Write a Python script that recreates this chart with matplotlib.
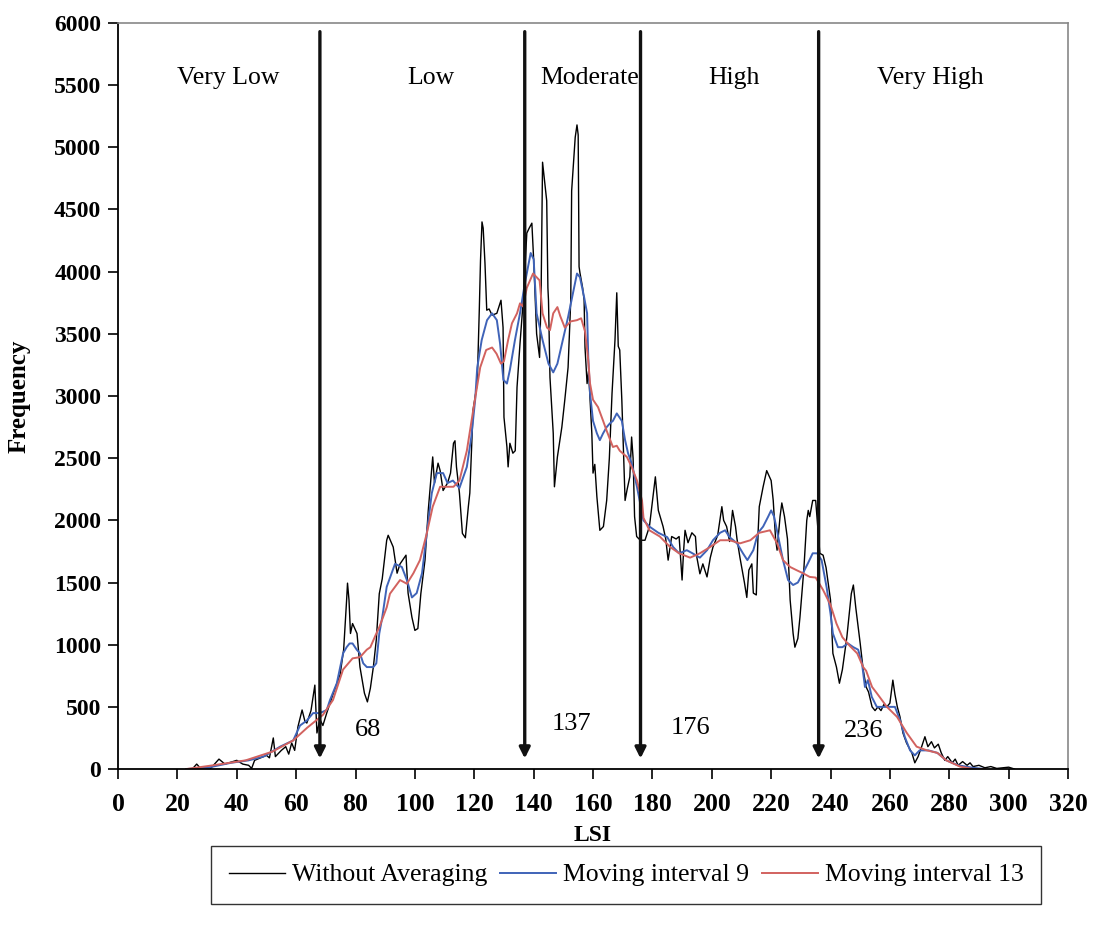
import numpy as np
import matplotlib.pyplot as plt

plt.rcParams.update({
    "font.family": "serif",
    "font.serif": ["Liberation Serif", "DejaVu Serif"],
})

# ---------------------------------------------------------------
# data (LSI vs. frequency)
# ---------------------------------------------------------------
raw_x = [23, 25, 26.5, 28, 31, 34, 36, 38, 40, 42, 44, 45, 46, 48, 50, 51, 52.3, 53, 55,
         56.5, 57.5, 58.5, 59.5, 60.6, 62, 63, 63.6, 65, 65.7, 66.3, 67, 68, 69, 70.3,
         71.4, 72.4, 74.8, 76, 77, 77.3, 77.8, 78.3, 79, 80.5, 81.5, 83, 84, 85, 86, 87,
         88, 89, 90.5, 91, 92.7, 94, 95, 97, 97.7, 99, 100, 101, 102, 103.4, 104.5, 105.6,
         106, 106.6, 107.8, 108.5, 109.5, 111, 112, 113, 113.5, 114, 115, 116, 117, 118,
         118.5, 119.6, 121, 121.7, 122.1, 122.6, 123, 123.6, 124.2, 125, 126, 127.6, 129,
         129.7, 130, 131, 131.4, 132, 133, 133.8, 134.4, 135.4, 136.5, 137.7, 138.5, 139.4,
         140, 141, 142, 142.5, 143, 144.4, 144.8, 145, 145.5, 146.6, 147, 148, 149.5, 150.5,
         151.6, 152.5, 152.8, 153.5, 154, 154.6, 155, 155.3, 155.6, 156.5, 157, 157.3, 158,
         158.5, 159.6, 160, 160.6, 161.3, 162.3, 163.5, 164.6, 165.5, 166.4, 167.4, 168,
         168.5, 169, 169.7, 170.8, 171.5, 172.4, 173, 173.5, 174, 174.7, 175.5, 176.3,
         177.5, 179, 181, 182, 183.6, 184.5, 185.3, 186.5, 188, 189, 190, 190.5, 191, 192,
         193.3, 194.5, 195, 196, 197, 198.4, 199.5, 200.4, 202, 203.4, 204, 205, 206, 207,
         208, 208.5, 209.5, 211, 211.8, 212.5, 213.5, 214, 215, 215.6, 216, 217.3, 218.5,
         220, 220.7, 221.5, 222, 223, 223.6, 224.5, 225.5, 226.4, 227.4, 228, 229, 229.7,
         231, 232, 232.5, 233, 234, 235, 236.4, 237.5, 238.5, 240, 240.8, 242, 243, 244,
         245.5, 247, 247.7, 248.5, 250, 251, 252, 252.8, 254, 255, 256, 257, 258, 259, 260,
         261, 261.7, 262.5, 263.4, 264.4, 265.6, 267.4, 268.4, 269.5, 270.7, 271.8, 272.8,
         274, 275, 276.3, 277.3, 278.5, 279.5, 281, 282, 283, 284.5, 286, 287, 288, 290,
         292, 294, 296, 300, 302]
raw_y = [0, 0, 40, 0, 0, 80, 40, 55, 70, 40, 30, 5, 70, 90, 110, 90, 250, 100, 150,
         180, 120, 210, 150, 340, 475, 380, 370, 470, 580, 675, 290, 400, 350, 450,
         530, 600, 760, 960, 1360, 1495, 1360, 1090, 1170, 1090, 820, 610, 540, 650, 820, 1040,
         1410, 1530, 1840, 1880, 1785, 1575, 1650, 1720, 1415, 1220, 1115, 1130, 1410, 1680, 2080, 2400,
         2510, 2300, 2460, 2400, 2240, 2300, 2380, 2620, 2640, 2430, 2220, 1895, 1860, 2110,
         2220, 2890, 3100, 3700, 4090, 4400, 4350, 4070, 3690, 3700, 3650, 3665, 3770,
         3550, 2830, 2590, 2430, 2620, 2540, 2560, 3070, 3420, 3770, 4310, 4350, 4390,
         4100, 3500, 3310, 3800, 4880, 4570, 3870, 3770, 3150, 2700, 2270, 2510, 2750, 2970,
         3230, 3770, 4650, 4900, 5080, 5180, 5100, 4040, 3990, 3870, 3770, 3390, 3100,
         3200, 2700, 2380, 2450, 2190, 1920, 1950, 2160, 2500, 3020, 3450, 3830,
         3400, 3370, 2970, 2160, 2250, 2350, 2670, 2500, 2030, 1870, 1850, 1840,
         1840, 1950, 2350, 2080, 1950, 1850, 1680, 1870, 1850, 1870, 1520, 1750, 1920, 1820,
         1900, 1870, 1700, 1570, 1650, 1545, 1700, 1785, 1880, 2110, 2000, 1950, 1830, 2080,
         1950, 1850, 1700, 1500, 1380, 1600, 1650, 1415, 1400, 1900, 2110, 2270, 2400,
         2320, 2160, 1850, 1760, 2030, 2140, 2030, 1850, 1360, 1090, 980, 1050, 1220,
         1600, 2000, 2080, 2030, 2160, 2160, 1735, 1720, 1620, 1360, 930, 820, 690, 800,
         1060, 1410, 1480, 1300, 1010, 800, 660, 620, 500, 470, 500, 470, 520, 500, 530,
         715, 600, 500, 420, 290, 210, 130, 50, 100, 180, 260, 180,
         220, 170, 200, 130, 70, 100, 50, 80, 30, 60, 30, 50, 20, 30,
         10, 20, 5, 15, 0]

ma9_x = [23, 30, 38, 44, 49, 54.6, 59, 61.3, 63.6, 65.7, 68, 70.3, 71.4, 73.7, 75.8, 77, 78,
         79, 80.4, 81.5, 82.6, 83.8, 86, 87, 88, 89, 90.5, 93.3, 95.6, 97.3, 99, 100.6,
         102.4, 104, 105.7, 107.4, 109.5, 111, 112.8, 115, 117.5, 119, 120.3, 121, 122.5,
         124.3, 126, 127.6, 128.7, 129.8, 131, 132, 133.7, 135.4, 137, 139, 140, 141, 143,
         145, 146.6, 148, 150, 151.6, 153, 154.6, 155.6, 157, 158, 158.4, 159, 160, 161.3,
         162.3, 163.4, 164.6, 165.7, 166.7, 168, 169.7, 170.8, 171.8, 173, 174.8, 176.5,
         177, 179, 182, 185, 187, 189, 191.6, 193.5, 196, 198.4, 200.4, 202.8, 204.5, 206,
         208.5, 210.5, 212, 214, 215.6, 217.3, 219, 220, 221, 222.4, 224, 225.7, 227.4, 229,
         230.7, 232.4, 234, 235.5, 237, 238.7, 240, 240.8, 242.5, 244, 245.9, 247.7, 249.3,
         250.6, 251.6, 252.6, 253.9, 255.6, 257.7, 260, 261.7, 263.4, 265, 266.8, 268.4,
         270, 273, 276, 279, 283, 288, 292]
ma9_y = [0, 10, 50, 70, 100, 180, 230, 350, 390, 450, 450, 475, 555, 690, 930, 980, 1010,
         1010, 960, 930, 850, 820, 820, 850, 1090, 1220, 1465, 1650, 1625, 1520, 1380, 1415,
         1575, 1895, 2220, 2380, 2380, 2300, 2320, 2260, 2430, 2670, 2970, 3230, 3450,
         3610, 3665, 3610, 3420, 3130, 3100, 3210, 3450, 3665, 3900, 4150, 4100, 3665, 3450,
         3260, 3190, 3260, 3470, 3635, 3800, 3985, 3955, 3795, 3665, 3310, 3020, 2800, 2700,
         2645, 2700, 2750, 2780, 2800, 2860, 2800, 2645, 2540, 2460, 2270, 2060,
         2000, 1950, 1900, 1865, 1785, 1735, 1760, 1735, 1700, 1760, 1840, 1900, 1920, 1865,
         1815, 1735, 1680, 1760, 1900, 1950, 2030, 2080, 2030, 1865, 1680, 1520, 1480, 1500,
         1575, 1655, 1735, 1735, 1680, 1460, 1250, 1090, 980, 980, 1010, 980, 960,
         850, 660, 715, 580, 500, 500, 500, 500, 395, 260, 150, 110,
         150, 150, 130, 70, 30, 10, 0]

ma13_x = [23, 32, 43, 52, 59, 63.6, 69, 72.4, 75.8, 79, 81.5, 83.8, 85, 87, 88, 90.5, 91.6,
          95, 97.3, 99.5, 101.7, 104, 106, 108.5, 110.8, 113, 115, 117.5, 119.6, 122, 124,
          126, 127.5, 129, 130, 131.4, 132.7, 134.4, 135.4, 136.4, 137.7, 139.8, 142, 143,
          144.5, 145.5, 146.6, 148, 149, 150.5, 152.5, 154.6, 156, 157.3, 158.3, 159, 160,
          161.7, 163.4, 164.6, 166.7, 168, 169, 171.4, 173, 174.8, 176.5, 177, 179, 182.5,
          186, 189, 192.7, 196, 199.4, 202.8, 206, 209.5, 213, 216, 219.6, 222, 224, 226.4,
          228.5, 230.7, 233, 235, 237.5, 240, 242, 244, 246.5, 249, 251, 252, 254, 255.6,
          259, 262.4, 265.7, 269, 272.5, 276, 279, 283.6, 288, 292]
ma13_y = [0, 30, 70, 140, 230, 330, 435, 555, 800, 890, 900, 960, 980, 1090, 1140, 1300, 1410,
          1520, 1490, 1575, 1680, 1895, 2110, 2270, 2270, 2270, 2320, 2560, 2880, 3230, 3370,
          3390, 3340, 3260, 3280, 3450, 3585, 3665, 3745, 3720, 3870, 3985, 3930, 3665,
          3550, 3530, 3665, 3715, 3640, 3550, 3600, 3610, 3625, 3520, 3310, 3100, 2970,
          2910, 2800, 2720, 2590, 2600, 2560, 2510, 2430, 2320, 2160, 2020, 1920, 1870,
          1785, 1735, 1700, 1735, 1785, 1840, 1840, 1815, 1840, 1900, 1920, 1815, 1680, 1625,
          1600, 1575, 1545, 1540, 1440, 1320, 1170, 1060, 990, 930, 820, 790, 660, 610,
          500, 420, 290, 180, 150, 130, 70, 20, 0, 0]

thresholds = [68, 137, 176, 236]
threshold_labels = ["68", "137", "176", "236"]
label_pos_x = [84.2, 152.6, 192.7, 251.3]
label_pos_y = [313, 362, 330, 305]

zone_names = ["Very Low", "Low", "Moderate", "High", "Very High"]
zone_x = [37, 105.4, 159, 207.5, 273.5]
zone_y = 5555

x_ticks = list(range(0, 321, 20))
y_ticks = list(range(0, 6001, 500))

# ---------------------------------------------------------------
# figure
# ---------------------------------------------------------------
fig = plt.figure(figsize=(10.99, 9.26), dpi=100)
ax = fig.add_axes([0.1074, 0.1695, 0.8644, 0.8057])

l_raw, = ax.plot(raw_x, raw_y, color="black", lw=1.0)
l_ma9, = ax.plot(ma9_x, ma9_y, color="#3f63b8", lw=1.4)
l_ma13, = ax.plot(ma13_x, ma13_y, color="#d2625f", lw=1.4)

# class break arrows
for t in thresholds:
    ax.annotate("", xy=(t, 85), xytext=(t, 5930),
                arrowprops=dict(arrowstyle="-|>", color="#111111", lw=2.4,
                                mutation_scale=16, shrinkA=0, shrinkB=0))

for lx, ly, s in zip(label_pos_x, label_pos_y, threshold_labels):
    ax.text(lx, ly, s, fontsize=19, ha="center", va="center")

for zx, name in zip(zone_x, zone_names):
    ax.text(zx, zone_y, name, fontsize=18.5, ha="center", va="center")

ax.set_xlim(0, 320)
ax.set_ylim(0, 6000)
ax.set_xticks(x_ticks)
ax.set_yticks(y_ticks)
ax.tick_params(axis="both", direction="out", length=7, width=1.2)
ax.tick_params(axis="x", labelsize=18.5, pad=10)
ax.tick_params(axis="y", labelsize=17, pad=5)
for lab in ax.get_xticklabels() + ax.get_yticklabels():
    lab.set_fontweight("bold")

for side in ["left", "bottom"]:
    ax.spines[side].set_color("black")
    ax.spines[side].set_linewidth(1.3)
for side in ["top", "right"]:
    ax.spines[side].set_color("#888888")
    ax.spines[side].set_linewidth(1.2)

ax.set_xlabel("LSI", fontsize=17, fontweight="bold", labelpad=7)
ax.set_ylabel("Frequency", fontsize=18, fontweight="bold", labelpad=17)

leg = fig.legend([l_raw, l_ma9, l_ma13],
                 ["Without Averaging", "Moving interval 9", "Moving interval 13"],
                 loc="center", bbox_to_anchor=(626 / 1099, 1 - 875 / 926),
                 ncol=3, fontsize=18.5, frameon=True, fancybox=False,
                 edgecolor="black", handlelength=2.2, handletextpad=0.25,
                 columnspacing=0.5, borderpad=0.7)
leg.get_frame().set_linewidth(1.0)

fig.savefig("out.png", dpi=100)
